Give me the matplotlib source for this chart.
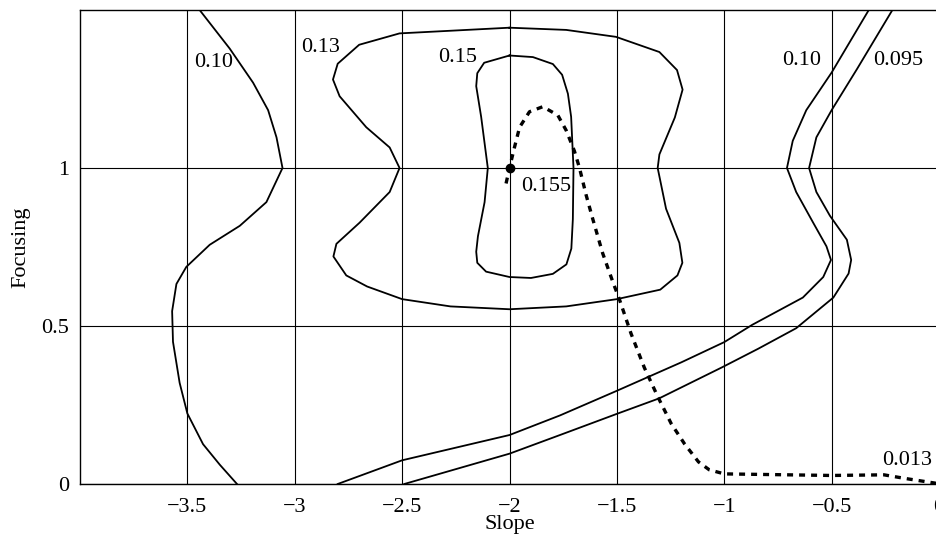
import matplotlib
matplotlib.use('Agg')
import matplotlib.pyplot as plt

plt.rcParams['font.family'] = ['Liberation Serif', 'DejaVu Serif']

# contour 0.10 (left branch)
c10a_x = [-3.443, -3.303, -3.194, -3.124, -3.085, -3.057, -3.132, -3.256, -3.396, -3.505,
          -3.551, -3.571, -3.567, -3.536, -3.500, -3.427, -3.349, -3.269]
c10a_y = [1.50, 1.378, 1.270, 1.183, 1.097, 1.000, 0.892, 0.817, 0.757, 0.687,
          0.633, 0.547, 0.450, 0.320, 0.223, 0.126, 0.061, 0.0]

# contour 0.13 (closed)
c13_x = [-2.0, -1.736, -1.504, -1.302, -1.22, -1.194, -1.23, -1.302, -1.310, -1.271,
         -1.209, -1.195, -1.218, -1.298, -1.5, -1.736, -2.0, -2.275, -2.5, -2.663,
         -2.76, -2.82, -2.806, -2.698, -2.558, -2.512, -2.558, -2.667, -2.791, -2.822,
         -2.80, -2.70, -2.512, -2.0]
c13_y = [1.444, 1.437, 1.415, 1.367, 1.31, 1.248, 1.16, 1.043, 1.0, 0.871,
         0.763, 0.70, 0.66, 0.615, 0.585, 0.562, 0.553, 0.562, 0.585, 0.625,
         0.66, 0.72, 0.76, 0.827, 0.924, 1.0, 1.065, 1.129, 1.227, 1.280,
         1.33, 1.39, 1.426, 1.444]

# contour 0.15 (closed)
c15_x = [-2.0, -1.891, -1.798, -1.755, -1.728, -1.713, -1.702, -1.705, -1.712, -1.735,
         -1.798, -1.9, -2.0, -2.109, -2.15, -2.155, -2.147, -2.116, -2.101, -2.132,
         -2.155, -2.150, -2.118, -2.0]
c15_y = [1.356, 1.351, 1.329, 1.295, 1.235, 1.162, 1.0, 0.838, 0.745, 0.695,
         0.665, 0.652, 0.655, 0.672, 0.70, 0.735, 0.784, 0.892, 1.0, 1.162,
         1.259, 1.300, 1.333, 1.356]

# contour 0.10 (right branch)
c10b_x = [-2.80, -2.5, -2.0, -1.765, -1.5, -1.38, -1.2, -1.0, -0.869, -0.634,
          -0.539, -0.503, -0.524, -0.586, -0.665, -0.708, -0.681, -0.618, -0.5, -0.327]
c10b_y = [0.0, 0.075, 0.155, 0.217, 0.295, 0.331, 0.385, 0.449, 0.504, 0.590,
          0.655, 0.709, 0.752, 0.827, 0.924, 1.0, 1.086, 1.183, 1.302, 1.50]

# contour 0.095
c095_x = [-2.49, -2.0, -1.765, -1.5, -1.303, -1.011, -0.842, -0.665, -0.492, -0.421,
          -0.409, -0.429, -0.508, -0.571, -0.605, -0.571, -0.5, -0.382, -0.217]
c095_y = [0.0, 0.096, 0.155, 0.222, 0.271, 0.369, 0.428, 0.493, 0.590, 0.666,
          0.709, 0.773, 0.849, 0.924, 1.0, 1.097, 1.183, 1.313, 1.50]

# search path (dashed)
path_x = [-2.016, -2.0, -1.977, -1.953, -1.907, -1.845, -1.775, -1.736, -1.698, -1.674,
          -1.643, -1.612, -1.566, -1.518, -1.488, -1.434, -1.372, -1.31, -1.247, -1.184,
          -1.12, -1.07, -1.0, -0.5, -0.256, -0.162, -0.02, 0.0]
path_y = [0.951, 1.0, 1.065, 1.129, 1.178, 1.194, 1.167, 1.119, 1.054, 1.0,
          0.914, 0.838, 0.730, 0.638, 0.584, 0.476, 0.368, 0.277, 0.191, 0.126,
          0.07, 0.045, 0.032, 0.027, 0.029, 0.018, 0.003, 0.0]

opt_x, opt_y = -2.0, 1.0

labels = ['0.10', '0.13', '0.15', '0.155', '0.10', '0.095', '0.013']
label_x = [-3.38, -2.88, -2.24, -1.83, -0.64, -0.19, -0.15]
label_y = [1.335, 1.38, 1.35, 0.94, 1.34, 1.34, 0.075]

xticks = [-3.5, -3, -2.5, -2, -1.5, -1, -0.5, 0]
xticklabels = ['\u22123.5', '\u22123', '\u22122.5', '\u22122', '\u22121.5', '\u22121', '\u22120.5', '0']
yticks = [0, 0.5, 1]
yticklabels = ['0', '0.5', '1']

fig = plt.figure(figsize=(9.36, 5.37), dpi=100)
ax = fig.add_axes([80 / 936, 53 / 537, 859 / 936, 474 / 537])

lw = 1.3
ax.plot(c10a_x, c10a_y, color='black', lw=lw)
ax.plot(c13_x, c13_y, color='black', lw=lw)
ax.plot(c15_x, c15_y, color='black', lw=lw)
ax.plot(c10b_x, c10b_y, color='black', lw=lw)
ax.plot(c095_x, c095_y, color='black', lw=lw)
ax.plot(path_x, path_y, color='black', lw=2.4, linestyle=(0, (1.8, 1.8)))
ax.plot([opt_x], [opt_y], 'o', color='black', ms=6)

for t, x, y in zip(labels, label_x, label_y):
    ax.text(x, y, t, fontsize=16, ha='center', va='center')

ax.set_xlim(-4, 0)
ax.set_ylim(0, 1.5)
ax.set_xticks(xticks)
ax.set_xticklabels(xticklabels)
ax.set_yticks(yticks)
ax.set_yticklabels(yticklabels)
ax.tick_params(axis='x', length=0, labelsize=16, pad=10)
ax.tick_params(axis='y', length=0, labelsize=16, pad=8)
ax.grid(True, color='black', lw=0.8)
ax.set_axisbelow(True)
for s in ax.spines.values():
    s.set_linewidth(1.0)
ax.set_xlabel('Slope', fontsize=16, labelpad=-1)
ax.set_ylabel('Focusing', fontsize=16, labelpad=8)

fig.savefig('out.png', dpi=100)
